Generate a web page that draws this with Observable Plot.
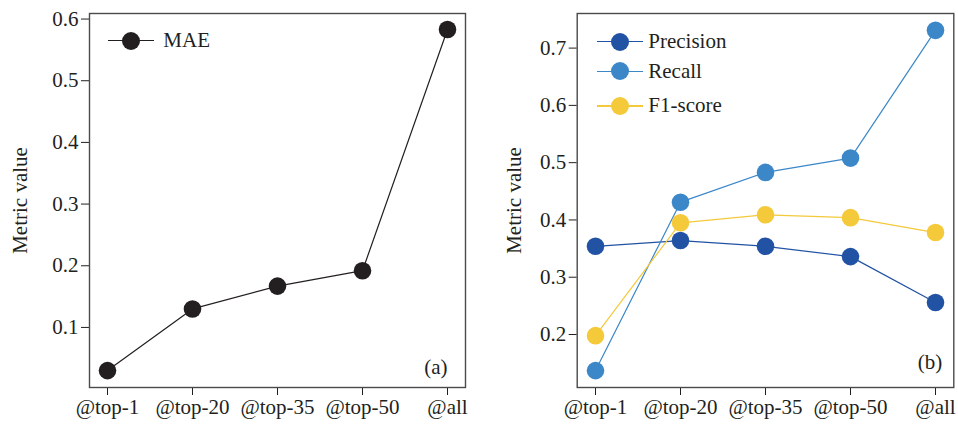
<!DOCTYPE html>
<html><head><meta charset="utf-8">
<script src="https://cdn.jsdelivr.net/npm/d3@7"></script>
<script src="https://cdn.jsdelivr.net/npm/@observablehq/plot@0.6"></script>
<style>
body{margin:0;background:#fff;}
#wrap{position:relative;width:958px;height:425px;display:flex;font-family:"Liberation Serif","Times New Roman",serif;}
.panel{position:relative;width:479px;height:425px;}
.panel svg{display:block;font-family:"Liberation Serif","Times New Roman",serif !important;}
.panel svg text{font-family:"Liberation Serif","Times New Roman",serif !important;}
.row{position:absolute;height:0;}
.row .ln{position:absolute;height:1.3px;top:-0.65px;}
.row .dt{position:absolute;width:18px;height:18px;border-radius:50%;top:-9px;}
.row .tx{position:absolute;font-size:21px;color:#231f20;line-height:1;white-space:nowrap;top:-10.6px;}
</style></head><body><div id="wrap"></div><script>
const categories = ["@top-1", "@top-20", "@top-35", "@top-50", "@all"];
const maeValues = [0.030, 0.130, 0.167, 0.192, 0.583];
const precisionValues = [0.354, 0.364, 0.354, 0.336, 0.256];
const recallValues = [0.137, 0.431, 0.483, 0.508, 0.731];
const f1Values = [0.198, 0.395, 0.409, 0.404, 0.378];
const leftTicks = [0.1, 0.2, 0.3, 0.4, 0.5, 0.6];
const rightTicks = [0.2, 0.3, 0.4, 0.5, 0.6, 0.7];
const leftSeries = [{name: "MAE", values: maeValues, color: "#231f20"}];
const rightSeries = [
  {name: "Precision", values: precisionValues, color: "#2152a3"},
  {name: "Recall", values: recallValues, color: "#3b87c8"},
  {name: "F1-score", values: f1Values, color: "#f4c93a"}
];
const FONT = '"Liberation Serif", "Times New Roman", serif';

function panel({yDomain, ticks, series, marginLeft, marginRight, tag, tagDx, tagDy, labelOffset, legend}) {
  const marks = [
    Plot.axisY({ticks, tickSize: 8, tickPadding: 3, tickFormat: d3.format(".1f"), label: "Metric value",
      labelAnchor: "center", labelArrow: "none", labelOffset, fontSize: 21, fontFamily: FONT}),
    Plot.axisX({tickSize: 8, tickPadding: 4, fontSize: 21, fontFamily: FONT, label: null}),
    Plot.frame({stroke: "#4a4a4a", strokeWidth: 1.4})
  ];
  for (const s of series) {
    const data = categories.map((c, i) => ({cat: c, v: s.values[i]}));
    marks.push(Plot.line(data, {x: "cat", y: "v", stroke: s.color, strokeWidth: 1.2}));
    marks.push(Plot.dot(data, {x: "cat", y: "v", r: 8.8, fill: s.color}));
  }
  marks.push(Plot.text([tag], {frameAnchor: "bottom-right", textAnchor: "end", lineAnchor: "bottom",
    dx: tagDx, dy: tagDy, fontSize: 21, fontFamily: FONT, fill: "#231f20"}));
  const svg = Plot.plot({
    width: 479, height: 425, marginTop: 13, marginBottom: 38, marginLeft, marginRight,
    style: {fontFamily: FONT, fontSize: "21px", color: "#231f20", background: "white"},
    x: {type: "point", domain: categories, padding: 0.2},
    y: {domain: yDomain},
    marks
  });
  const div = document.createElement("div");
  div.className = "panel";
  div.appendChild(svg);
  series.forEach((s, i) => {
    const row = document.createElement("div");
    row.className = "row";
    row.style.left = legend.x + "px";
    row.style.top = legend.ys[i] + "px";
    row.innerHTML = `<div class="ln" style="left:0;width:${legend.lineW}px;background:${s.color}"></div>` +
      `<div class="dt" style="left:${legend.lineW / 2 - 9}px;background:${s.color}"></div>` +
      `<div class="tx" style="left:${legend.textX}px">${s.name}</div>`;
    div.appendChild(row);
  });
  return div;
}

const wrap = document.getElementById("wrap");
wrap.appendChild(panel({
  yDomain: [0.0026, 0.609], ticks: leftTicks, series: leftSeries, marginLeft: 89, marginRight: 14,
  tag: "(a)", tagDx: -18, tagDy: -14, labelOffset: 77,
  legend: {x: 108.3, ys: [40.7], lineW: 46, textX: 55}
}));
wrap.appendChild(panel({
  yDomain: [0.1075, 0.7604], ticks: rightTicks, series: rightSeries, marginLeft: 97.7, marginRight: 4.7,
  tag: "(b)", tagDx: -11.6, tagDy: -19, labelOffset: 71,
  legend: {x: 596.7 - 479, ys: [41.7, 71.3, 106], lineW: 46, textX: 51.6}
}));
</script></body></html>
